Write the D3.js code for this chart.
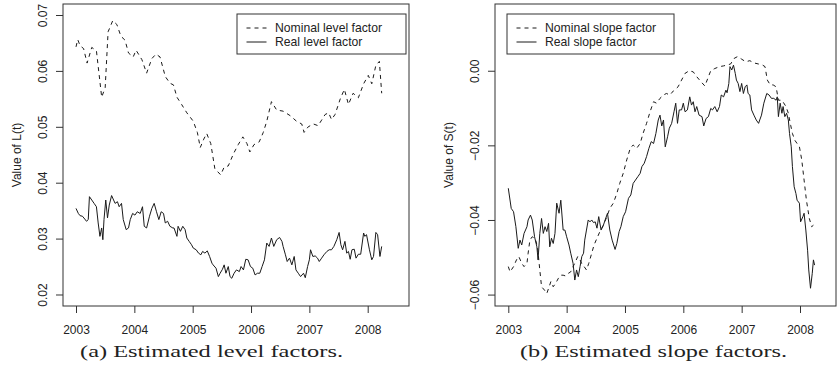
<!DOCTYPE html>
<html><head><meta charset="utf-8">
<script src="https://cdn.jsdelivr.net/npm/d3@7"></script>
<style>
html,body{margin:0;padding:0;background:#fff;}
svg{display:block;}
text{font-family:"Liberation Sans",Arial,Helvetica,sans-serif;fill:#222;}
text.cap{font-family:"Liberation Serif","Times New Roman",serif;fill:#222;}
</style></head>
<body><svg id="chart" width="837" height="376"></svg>
<script>
// ---------- data (decimal year, value) ----------
const years = [2003, 2004, 2005, 2006, 2007, 2008];
const levelTicks = [0.02, 0.03, 0.04, 0.05, 0.06, 0.07];
const slopeTicks = [-0.06, -0.04, -0.02, 0.00];

const nominalLevel = [
[2003.00,0.0643],[2003.03,0.0656],[2003.07,0.0645],[2003.13,0.0640],[2003.19,0.0614],[2003.27,0.0642],
[2003.35,0.0636],[2003.44,0.0553],[2003.50,0.0570],[2003.55,0.0670],[2003.63,0.0690],[2003.70,0.0683],
[2003.77,0.0662],[2003.84,0.0655],[2003.90,0.0632],[2003.98,0.0625],[2004.03,0.0637],[2004.13,0.0620],
[2004.21,0.0596],[2004.30,0.0622],[2004.37,0.0630],[2004.44,0.0625],[2004.53,0.0590],[2004.61,0.0578],
[2004.67,0.0575],[2004.73,0.0553],[2004.81,0.0540],[2004.90,0.0525],[2005.01,0.0510],[2005.08,0.0490],
[2005.13,0.0463],[2005.19,0.0478],[2005.24,0.0488],[2005.31,0.0470],[2005.38,0.0425],[2005.48,0.0414],
[2005.54,0.0428],[2005.61,0.0430],[2005.70,0.0452],[2005.78,0.0468],[2005.86,0.0482],[2005.93,0.0470],
[2005.98,0.0455],[2006.05,0.0468],[2006.14,0.0473],[2006.21,0.0490],[2006.27,0.0510],[2006.35,0.0545],
[2006.44,0.0530],[2006.55,0.0528],[2006.67,0.0520],[2006.78,0.0510],[2006.87,0.0505],[2006.91,0.0490],
[2006.98,0.0500],[2007.07,0.0505],[2007.15,0.0502],[2007.21,0.0512],[2007.27,0.0522],[2007.33,0.0525],
[2007.38,0.0513],[2007.44,0.0522],[2007.53,0.0550],[2007.60,0.0567],[2007.67,0.0540],[2007.75,0.0560],
[2007.84,0.0552],[2007.93,0.0577],[2008.01,0.0592],[2008.07,0.0577],[2008.14,0.0610],[2008.20,0.0617],
[2008.24,0.0560]];

const realLevel = [
[2003.00,0.0354],[2003.04,0.0345],[2003.07,0.0341],[2003.11,0.0340],[2003.15,0.0335],[2003.18,0.0331],
[2003.21,0.0334],[2003.23,0.0375],[2003.27,0.0369],[2003.31,0.0363],[2003.35,0.0357],[2003.38,0.0328],
[2003.41,0.0304],[2003.44,0.0319],[2003.46,0.0298],[2003.48,0.0334],[2003.51,0.0369],[2003.54,0.0337],
[2003.57,0.0360],[2003.61,0.0377],[2003.67,0.0363],[2003.71,0.0366],[2003.74,0.0357],[2003.78,0.0363],
[2003.81,0.0334],[2003.86,0.0316],[2003.90,0.0319],[2003.93,0.0334],[2003.97,0.0345],[2004.01,0.0342],
[2004.05,0.0348],[2004.10,0.0345],[2004.14,0.0357],[2004.17,0.0322],[2004.21,0.0319],[2004.26,0.0340],
[2004.30,0.0354],[2004.34,0.0363],[2004.38,0.0348],[2004.42,0.0334],[2004.46,0.0348],[2004.50,0.0345],
[2004.53,0.0328],[2004.57,0.0331],[2004.61,0.0322],[2004.66,0.0319],[2004.68,0.0319],[2004.73,0.0304],
[2004.75,0.0322],[2004.79,0.0313],[2004.83,0.0322],[2004.87,0.0316],[2004.90,0.0301],[2004.94,0.0295],
[2004.98,0.0289],[2005.01,0.0283],[2005.06,0.0280],[2005.10,0.0274],[2005.14,0.0271],[2005.17,0.0277],
[2005.21,0.0274],[2005.25,0.0278],[2005.29,0.0268],[2005.33,0.0256],[2005.35,0.0253],[2005.40,0.0247],
[2005.44,0.0232],[2005.47,0.0238],[2005.51,0.0245],[2005.54,0.0253],[2005.57,0.0238],[2005.61,0.0250],
[2005.64,0.0232],[2005.67,0.0229],[2005.71,0.0238],[2005.75,0.0244],[2005.80,0.0241],[2005.83,0.0250],
[2005.87,0.0244],[2005.91,0.0263],[2005.95,0.0262],[2005.99,0.0250],[2006.03,0.0247],[2006.07,0.0235],
[2006.11,0.0238],[2006.15,0.0238],[2006.19,0.0250],[2006.23,0.0262],[2006.27,0.0292],[2006.31,0.0286],
[2006.35,0.0301],[2006.39,0.0286],[2006.44,0.0298],[2006.49,0.0302],[2006.53,0.0295],[2006.55,0.0286],
[2006.59,0.0271],[2006.62,0.0259],[2006.66,0.0265],[2006.70,0.0253],[2006.74,0.0268],[2006.77,0.0244],
[2006.81,0.0238],[2006.85,0.0232],[2006.90,0.0238],[2006.93,0.0230],[2006.97,0.0250],[2007.00,0.0262],
[2007.02,0.0280],[2007.06,0.0268],[2007.10,0.0269],[2007.14,0.0265],[2007.17,0.0259],[2007.21,0.0265],
[2007.25,0.0271],[2007.30,0.0277],[2007.34,0.0280],[2007.38,0.0280],[2007.42,0.0286],[2007.47,0.0298],
[2007.51,0.0311],[2007.54,0.0289],[2007.57,0.0280],[2007.61,0.0295],[2007.64,0.0274],[2007.67,0.0277],
[2007.70,0.0263],[2007.73,0.0280],[2007.77,0.0281],[2007.80,0.0265],[2007.84,0.0272],[2007.88,0.0272],
[2007.93,0.0310],[2007.95,0.0304],[2007.98,0.0307],[2008.03,0.0280],[2008.07,0.0262],[2008.10,0.0268],
[2008.14,0.0311],[2008.17,0.0307],[2008.21,0.0268],[2008.24,0.0286]];

const nominalSlope = [
[2003.00,-0.0525],[2003.03,-0.0539],[2003.09,-0.0525],[2003.14,-0.0507],[2003.18,-0.0498],[2003.23,-0.0516],
[2003.27,-0.0525],[2003.32,-0.0516],[2003.34,-0.0489],[2003.37,-0.0454],[2003.41,-0.0445],[2003.46,-0.0449],
[2003.50,-0.0472],[2003.54,-0.0534],[2003.57,-0.0579],[2003.62,-0.0588],[2003.66,-0.0597],[2003.70,-0.0579],
[2003.73,-0.0565],[2003.77,-0.0579],[2003.81,-0.0570],[2003.86,-0.0556],[2003.90,-0.0548],[2003.94,-0.0548],
[2003.98,-0.0550],[2004.03,-0.0543],[2004.07,-0.0539],[2004.11,-0.0525],[2004.14,-0.0516],[2004.19,-0.0498],
[2004.23,-0.0507],[2004.27,-0.0521],[2004.30,-0.0525],[2004.34,-0.0534],[2004.38,-0.0516],[2004.43,-0.0489],
[2004.47,-0.0467],[2004.52,-0.0449],[2004.57,-0.0431],[2004.63,-0.0414],[2004.69,-0.0391],[2004.74,-0.0369],
[2004.80,-0.0355],[2004.86,-0.0329],[2004.91,-0.0302],[2004.97,-0.0275],[2005.03,-0.0239],[2005.09,-0.0208],
[2005.14,-0.0199],[2005.20,-0.0208],[2005.26,-0.0195],[2005.31,-0.0168],[2005.37,-0.0141],[2005.43,-0.0110],
[2005.49,-0.0083],[2005.54,-0.0087],[2005.60,-0.0074],[2005.66,-0.0065],[2005.71,-0.0061],[2005.77,-0.0065],
[2005.83,-0.0054],[2005.91,-0.0043],[2005.97,-0.0025],[2006.03,-0.0007],[2006.10,0.0000],[2006.17,-0.0003],
[2006.23,-0.0016],[2006.30,-0.0029],[2006.37,-0.0041],[2006.43,-0.0016],[2006.47,0.0000],[2006.54,0.0006],
[2006.62,0.0011],[2006.69,0.0013],[2006.74,0.0015],[2006.81,0.0018],[2006.87,0.0033],[2006.93,0.0038],
[2007.00,0.0031],[2007.07,0.0024],[2007.14,0.0027],[2007.21,0.0021],[2007.29,0.0018],[2007.36,0.0015],
[2007.40,0.0011],[2007.44,-0.0025],[2007.49,-0.0038],[2007.54,-0.0038],[2007.59,-0.0043],[2007.63,-0.0079],
[2007.69,-0.0079],[2007.76,-0.0096],[2007.80,-0.0114],[2007.84,-0.0146],[2007.87,-0.0168],[2007.91,-0.0186],
[2007.95,-0.0195],[2007.99,-0.0204],[2008.03,-0.0239],[2008.07,-0.0293],[2008.11,-0.0347],[2008.16,-0.0396],
[2008.20,-0.0418],[2008.23,-0.0414]];

const realSlope = [
[2003.00,-0.0315],[2003.05,-0.0369],[2003.09,-0.0378],[2003.13,-0.0418],[2003.17,-0.0476],[2003.20,-0.0454],
[2003.23,-0.0467],[2003.27,-0.0436],[2003.32,-0.0418],[2003.34,-0.0400],[2003.38,-0.0387],[2003.41,-0.0400],
[2003.45,-0.0445],[2003.49,-0.0472],[2003.51,-0.0507],[2003.54,-0.0436],[2003.57,-0.0396],[2003.60,-0.0436],
[2003.63,-0.0418],[2003.66,-0.0431],[2003.69,-0.0409],[2003.71,-0.0472],[2003.74,-0.0449],[2003.77,-0.0463],
[2003.80,-0.0436],[2003.83,-0.0355],[2003.87,-0.0382],[2003.90,-0.0347],[2003.94,-0.0427],[2003.97,-0.0427],
[2004.00,-0.0445],[2004.04,-0.0467],[2004.07,-0.0489],[2004.11,-0.0516],[2004.14,-0.0561],[2004.17,-0.0534],
[2004.20,-0.0552],[2004.23,-0.0525],[2004.26,-0.0498],[2004.29,-0.0489],[2004.31,-0.0454],[2004.34,-0.0427],
[2004.37,-0.0400],[2004.40,-0.0405],[2004.43,-0.0400],[2004.46,-0.0407],[2004.49,-0.0405],[2004.52,-0.0422],
[2004.55,-0.0391],[2004.59,-0.0427],[2004.63,-0.0414],[2004.66,-0.0400],[2004.70,-0.0382],[2004.74,-0.0427],
[2004.78,-0.0454],[2004.83,-0.0479],[2004.86,-0.0463],[2004.90,-0.0431],[2004.93,-0.0418],[2004.97,-0.0391],
[2005.01,-0.0378],[2005.06,-0.0342],[2005.10,-0.0333],[2005.14,-0.0302],[2005.18,-0.0293],[2005.22,-0.0284],
[2005.26,-0.0275],[2005.29,-0.0257],[2005.33,-0.0248],[2005.37,-0.0230],[2005.41,-0.0208],[2005.45,-0.0190],
[2005.49,-0.0195],[2005.53,-0.0168],[2005.57,-0.0132],[2005.60,-0.0119],[2005.63,-0.0148],[2005.66,-0.0132],
[2005.69,-0.0204],[2005.73,-0.0177],[2005.76,-0.0154],[2005.80,-0.0141],[2005.84,-0.0110],[2005.87,-0.0087],
[2005.90,-0.0141],[2005.93,-0.0105],[2005.97,-0.0105],[2006.00,-0.0087],[2006.03,-0.0110],[2006.07,-0.0105],
[2006.11,-0.0070],[2006.14,-0.0092],[2006.17,-0.0083],[2006.20,-0.0110],[2006.23,-0.0096],[2006.27,-0.0119],
[2006.32,-0.0123],[2006.35,-0.0148],[2006.39,-0.0128],[2006.43,-0.0123],[2006.47,-0.0101],[2006.50,-0.0105],
[2006.54,-0.0096],[2006.58,-0.0110],[2006.62,-0.0096],[2006.65,-0.0065],[2006.69,-0.0070],[2006.73,-0.0052],
[2006.75,-0.0059],[2006.78,-0.0034],[2006.80,0.0011],[2006.83,0.0002],[2006.86,0.0015],[2006.89,-0.0007],
[2006.91,-0.0025],[2006.94,-0.0034],[2006.97,-0.0056],[2007.00,-0.0034],[2007.03,-0.0061],[2007.06,-0.0043],
[2007.09,-0.0038],[2007.11,-0.0061],[2007.14,-0.0065],[2007.17,-0.0105],[2007.21,-0.0119],[2007.25,-0.0132],
[2007.29,-0.0141],[2007.31,-0.0132],[2007.34,-0.0119],[2007.38,-0.0087],[2007.43,-0.0061],[2007.47,-0.0065],
[2007.51,-0.0074],[2007.55,-0.0074],[2007.59,-0.0079],[2007.61,-0.0070],[2007.63,-0.0123],[2007.66,-0.0087],
[2007.69,-0.0114],[2007.71,-0.0096],[2007.74,-0.0123],[2007.77,-0.0114],[2007.80,-0.0132],[2007.82,-0.0168],
[2007.85,-0.0204],[2007.87,-0.0257],[2007.90,-0.0311],[2007.93,-0.0329],[2007.95,-0.0347],[2007.99,-0.0355],
[2008.01,-0.0405],[2008.05,-0.0391],[2008.07,-0.0382],[2008.10,-0.0427],[2008.13,-0.0481],[2008.15,-0.0534],
[2008.18,-0.0583],[2008.21,-0.0543],[2008.23,-0.0507],[2008.25,-0.0521]];

const panels = [
  {box:{x0:63,x1:409,y0:4,y1:306}, xDom:[2002.777,2008.708], yDom:[0.01794,0.07197],
   yTicks:levelTicks, fmt:d3.format(".2f"), ytitle:"Value of L(t)",
   series:[{data:nominalLevel,dash:"4,4"},{data:realLevel,dash:null}],
   legend:{x:237,y:14,w:169,h:40,labels:["Nominal level factor","Real level factor"]},
   caption:"(a) Estimated level factors.", capX:211.5, capW:263},
  {box:{x0:495,x1:836,y0:4,y1:306}, xDom:[2002.772,2008.617], yDom:[-0.06306,0.01789],
   yTicks:slopeTicks, fmt:v=>d3.format(".2f")(v).replace("-","\u2212"), ytitle:"Value of S(t)",
   series:[{data:nominalSlope,dash:"4,4"},{data:realSlope,dash:null}],
   legend:{x:507,y:14,w:167,h:40,labels:["Nominal slope factor","Real slope factor"]},
   caption:"(b) Estimated slope factors.", capX:653.5, capW:267}
];

const svg = d3.select("#chart");
const ink = "#1a1a1a";
const sans = "'Liberation Sans', Arial, Helvetica, sans-serif";

panels.forEach(p => {
  const b = p.box;
  const x = d3.scaleLinear().domain(p.xDom).range([b.x0, b.x1]);
  const y = d3.scaleLinear().domain(p.yDom).range([b.y1, b.y0]);
  const g = svg.append("g");

  const line = d3.line().x(d => x(d[0])).y(d => y(d[1]));
  p.series.forEach(s => {
    g.append("path").datum(s.data).attr("d", line)
      .attr("fill","none").attr("stroke",ink).attr("stroke-width",1)
      .attr("stroke-dasharray", s.dash);
  });

  g.append("rect").attr("x",b.x0).attr("y",b.y0).attr("width",b.x1-b.x0).attr("height",b.y1-b.y0)
    .attr("fill","none").attr("stroke","#333").attr("stroke-width",1);

  const xa = g.append("g").attr("transform",`translate(0,${b.y1})`)
    .call(d3.axisBottom(x).tickValues(years).tickFormat(d3.format("d")).tickSize(7).tickPadding(12));
  xa.attr("font-family", sans).attr("font-size", 12);
  xa.select(".domain").remove();
  xa.selectAll("line").attr("stroke","#333");
  xa.selectAll("text").attr("fill","#222");

  const ya = g.append("g").attr("transform",`translate(${b.x0},0)`)
    .call(d3.axisLeft(y).tickValues(p.yTicks).tickFormat(p.fmt).tickSize(7));
  ya.attr("font-family", sans).attr("font-size", 12);
  ya.select(".domain").remove();
  ya.selectAll("line").attr("stroke","#333");
  ya.selectAll("text").attr("fill","#222")
    .attr("transform","rotate(-90)").attr("x",0).attr("y",-16).attr("dy",null)
    .attr("text-anchor","middle");

  g.append("text").attr("transform",`translate(${b.x0-42},${(b.y0+b.y1)/2}) rotate(-90)`)
    .attr("text-anchor","middle").attr("font-size",12).attr("font-family",sans).text(p.ytitle);

  const L = p.legend;
  const lg = g.append("g");
  lg.append("rect").attr("x",L.x).attr("y",L.y).attr("width",L.w).attr("height",L.h)
    .attr("fill","#fff").attr("stroke","#333").attr("stroke-width",1);
  p.series.forEach((s,i) => {
    const cy = L.y + 14 + i*14;
    lg.append("line").attr("x1",L.x+9.5).attr("x2",L.x+29.5).attr("y1",cy).attr("y2",cy)
      .attr("stroke",ink).attr("stroke-width",1).attr("stroke-dasharray",s.dash);
    lg.append("text").attr("x",L.x+38).attr("y",cy+4.3).attr("font-size",12.2)
      .attr("font-family",sans).text(L.labels[i]);
  });

  svg.append("text").attr("class","cap").attr("x",p.capX - p.capW/2).attr("y",357)
    .attr("font-size",17).attr("textLength",p.capW).attr("lengthAdjust","spacingAndGlyphs")
    .text(p.caption);
});
</script></body></html>
